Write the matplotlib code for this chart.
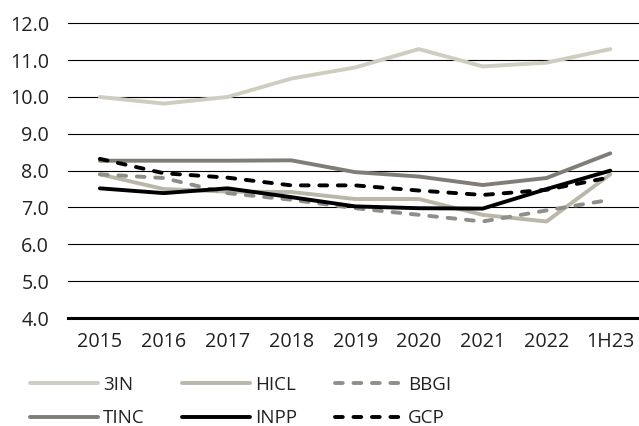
import matplotlib
matplotlib.use("Agg")
import matplotlib.pyplot as plt

plt.rcParams['font.family'] = ['Open Sans', 'DejaVu Sans']

periods = ["2015", "2016", "2017", "2018", "2019", "2020", "2021", "2022", "1H23"]

tin = [10.0, 9.82, 10.0, 10.5, 10.8, 11.3, 10.83, 10.93, 11.3]
hicl = [7.9, 7.5, 7.43, 7.42, 7.23, 7.23, 6.8, 6.62, 7.9]
bbgi = [7.9, 7.8, 7.39, 7.21, 6.98, 6.8, 6.62, 6.92, 7.21]
tinc = [8.27, 8.27, 8.27, 8.28, 7.96, 7.84, 7.61, 7.8, 8.47]
inpp = [7.52, 7.39, 7.52, 7.28, 7.03, 6.98, 6.97, 7.5, 8.0]
gcp = [8.32, 7.93, 7.81, 7.6, 7.6, 7.46, 7.34, 7.48, 7.82]

yticks = [4.0, 5.0, 6.0, 7.0, 8.0, 9.0, 10.0, 11.0, 12.0]

fig = plt.figure(figsize=(6.39, 4.26), dpi=100)
ax = fig.add_axes([68 / 639, 1 - 318 / 426, 1 - 68 / 639, (318 - 23.3) / 426])

x = list(range(len(periods)))
for yv in yticks[1:]:
    ax.axhline(yv, color="black", lw=0.8, zorder=0, clip_on=False)
ax.axhline(4.0, color="black", lw=2.2, zorder=0, clip_on=False)

lw = 2.8
dash = (2.0, 2.75)
style = dict(lw=lw, solid_capstyle="round", dash_capstyle="round")
l_3in, = ax.plot(x, tin, color="#cfccc0", label="3IN", **style)
l_hicl, = ax.plot(x, hicl, color="#bab6a8", label="HICL", **style)
l_bbgi, = ax.plot(x, bbgi, color="#8e8f88", dashes=dash, label="BBGI", **style)
l_tinc, = ax.plot(x, tinc, color="#807c76", label="TINC", **style)
l_inpp, = ax.plot(x, inpp, color="black", label="INPP", **style)
l_gcp, = ax.plot(x, gcp, color="black", dashes=dash, label="GCP", **style)

ax.set_xlim(-0.5, 8.45)
ax.set_ylim(4.0, 12.0)
ax.set_yticks(yticks)
ax.set_yticklabels([f"{v:.1f}" for v in yticks])
ax.set_xticks(x)
ax.set_xticklabels(periods)
ax.tick_params(length=0, labelsize=14.2, colors="#222222")
ax.tick_params(axis="y", pad=13.5)
ax.tick_params(axis="x", pad=10)
for s in ax.spines.values():
    s.set_visible(False)

handles = [l_3in, l_tinc, l_hicl, l_inpp, l_bbgi, l_gcp]
fig.legend(handles=handles, labels=[h.get_label() for h in handles],
           ncol=3, loc="upper left", bbox_to_anchor=(30 / 639, 1 - 375.5 / 426),
           frameon=False, handlelength=3.6, handletextpad=0.3,
           columnspacing=2.0, labelspacing=0.85, borderpad=0, borderaxespad=0,
           labelcolor="#222222", fontsize=13.5)

fig.savefig("out.png", dpi=100)
